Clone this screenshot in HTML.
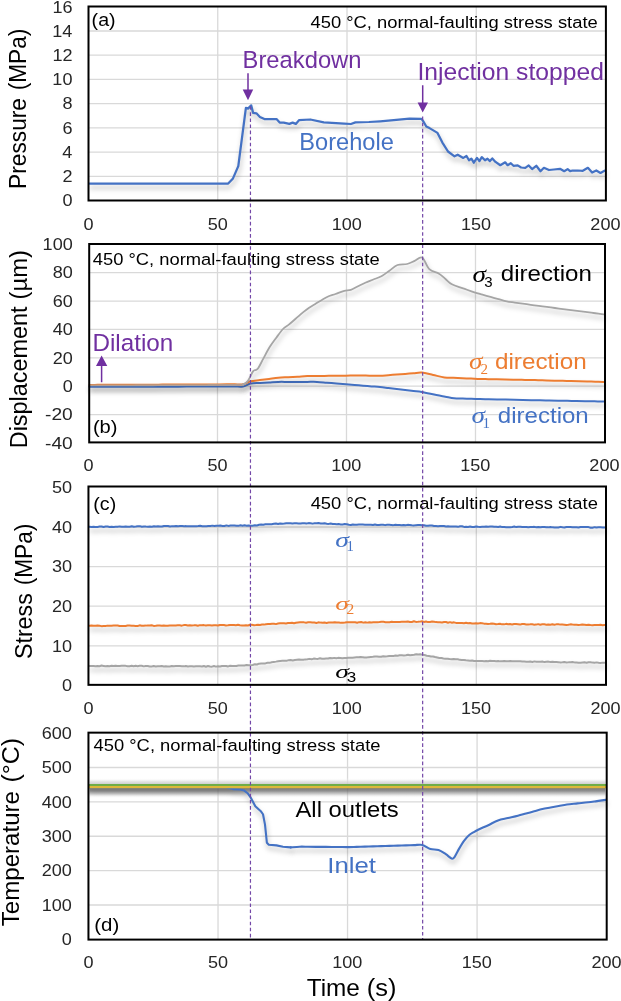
<!DOCTYPE html><html><head><meta charset="utf-8"><style>html,body{margin:0;padding:0;background:#fff;overflow:hidden}svg{display:block;will-change:transform}</style></head><body><svg width="621" height="1001" viewBox="0 0 621 1001">
<defs><filter id="sh" filterUnits="userSpaceOnUse" x="0" y="0" width="621" height="1001" color-interpolation-filters="sRGB"><feGaussianBlur in="SourceAlpha" stdDeviation="2.4"/><feOffset dx="1" dy="3.5" result="o"/><feFlood flood-color="#000" flood-opacity="0.27"/><feComposite in2="o" operator="in"/><feMerge><feMergeNode/><feMergeNode in="SourceGraphic"/></feMerge></filter><linearGradient id="gtop" x1="0" y1="0" x2="0" y2="1"><stop offset="0" stop-color="#fff" stop-opacity="0"/><stop offset="0.5" stop-color="#dcdcdc" stop-opacity="0.7"/><stop offset="1" stop-color="#c4c4c4" stop-opacity="0.9"/></linearGradient><linearGradient id="gbot" x1="0" y1="0" x2="0" y2="1"><stop offset="0" stop-color="#5e5e5e" stop-opacity="0.85"/><stop offset="0.3" stop-color="#6c6c6c" stop-opacity="0.75"/><stop offset="0.6" stop-color="#999" stop-opacity="0.5"/><stop offset="1" stop-color="#fff" stop-opacity="0"/></linearGradient></defs>
<rect width="621" height="1001" fill="#fff"/>
<path d="M88.5,176.30H605.5M88.5,152.09H605.5M88.5,127.87H605.5M88.5,103.65H605.5M88.5,79.43H605.5M88.5,55.22H605.5M88.5,31.00H605.5M217.75,6.78V200.52M347.00,6.78V200.52M476.25,6.78V200.52" stroke="#D9D9D9" stroke-width="1.3" fill="none"/>
<path d="M88.5,414.55H604.5M88.5,386.18H604.5M88.5,357.81H604.5M88.5,329.44H604.5M88.5,301.07H604.5M88.5,272.70H604.5M217.50,244.33V442.92M346.50,244.33V442.92M475.50,244.33V442.92" stroke="#D9D9D9" stroke-width="1.3" fill="none"/>
<path d="M88.5,645.80H605.6M88.5,606.20H605.6M88.5,566.60H605.6M88.5,527.00H605.6M217.78,487.4V685.4M347.05,487.4V685.4M476.32,487.4V685.4" stroke="#D9D9D9" stroke-width="1.3" fill="none"/>
<path d="M88.5,905.02H606.6M88.5,870.63H606.6M88.5,836.25H606.6M88.5,801.87H606.6M88.5,767.48H606.6M218.03,733.1V939.4M347.55,733.1V939.4M477.07,733.1V939.4" stroke="#D9D9D9" stroke-width="1.3" fill="none"/>
<path d="M89.50,183.50 L228.20,183.50 L233.00,178.40 L238.30,166.10 L245.90,107.80 L248.00,108.60 L251.20,105.40 L253.10,112.90 L256.40,113.30 L259.90,117.00 L264.40,119.10 L276.50,119.10 L279.70,122.60 L283.70,122.60 L289.40,123.90 L292.60,122.60 L295.80,123.90 L299.00,120.20 L310.30,119.50 L323.80,122.40 L344.10,123.60 L350.90,124.00 L355.40,122.40 L368.90,122.00 L380.20,121.30 L393.70,120.20 L409.50,118.60 L421.40,118.80 L423.00,120.90 L426.30,126.50 L429.50,128.10 L437.50,132.90 L442.40,142.60 L448.00,151.50 L454.50,156.30 L457.70,154.70 L463.30,157.90 L466.50,156.00 L469.00,160.30 L471.40,158.70 L473.80,162.70 L477.00,157.90 L479.40,161.10 L481.80,157.10 L485.00,160.30 L487.50,158.70 L489.90,161.10 L492.30,158.40 L495.50,161.90 L500.30,165.20 L505.20,162.30 L507.60,165.20 L510.80,163.20 L513.50,165.80 L517.70,165.40 L521.10,167.50 L525.30,167.80 L528.70,165.40 L532.10,169.10 L536.30,165.80 L540.50,171.20 L543.90,167.80 L549.00,170.00 L554.00,169.50 L560.00,168.80 L564.20,171.20 L567.60,169.10 L570.10,171.20 L572.60,170.50 L577.70,170.50 L582.80,170.80 L587.90,167.80 L592.10,172.50 L596.30,170.50 L600.50,172.90 L604.50,170.80" fill="none" stroke="#4472C4" stroke-width="2.25" stroke-linejoin="round" stroke-linecap="round" filter="url(#sh)"/>
<path d="M89.50,386.80 C90.85,386.80 94.89,386.79 97.58,386.78 C100.27,386.78 102.96,386.77 105.66,386.77 C108.35,386.76 111.04,386.76 113.74,386.75 C116.43,386.75 119.12,386.74 121.82,386.74 C124.51,386.73 127.20,386.73 129.89,386.72 C132.59,386.72 135.28,386.71 137.97,386.71 C140.67,386.70 143.36,386.69 146.05,386.69 C148.75,386.68 151.44,386.68 154.13,386.67 C156.82,386.67 159.52,386.66 162.21,386.66 C164.90,386.65 167.60,386.65 170.29,386.64 C172.98,386.64 175.68,386.63 178.37,386.63 C181.06,386.62 183.75,386.62 186.45,386.61 C189.14,386.61 191.83,386.60 194.53,386.59 C197.22,386.59 199.91,386.58 202.61,386.58 C205.30,386.57 207.99,386.57 210.68,386.56 C213.38,386.56 216.07,386.55 218.76,386.55 C221.46,386.54 224.15,386.54 226.84,386.53 C229.54,386.53 232.23,386.52 234.92,386.52 C237.61,386.51 240.39,387.00 243.00,386.50 C245.61,386.00 247.79,384.09 250.60,383.50 C253.41,382.91 256.76,383.14 259.83,382.97 C262.91,382.79 265.99,382.61 269.07,382.43 C272.14,382.26 275.15,381.99 278.30,381.90 C281.45,381.81 284.75,381.90 287.98,381.90 C291.20,381.90 294.42,381.90 297.65,381.90 C300.88,381.90 304.10,381.90 307.32,381.90 C310.55,381.90 313.78,381.77 317.00,381.90 C320.22,382.03 323.44,382.41 326.67,382.67 C329.89,382.92 333.11,383.18 336.33,383.43 C339.56,383.69 342.97,383.95 346.00,384.20 C349.03,384.45 351.67,384.68 354.50,384.93 C357.33,385.17 360.17,385.41 363.00,385.65 C365.83,385.89 368.67,386.13 371.50,386.38 C374.33,386.62 377.19,386.82 380.00,387.10 C382.81,387.38 385.59,387.74 388.38,388.06 C391.17,388.38 393.97,388.70 396.76,389.02 C399.55,389.34 402.35,389.66 405.14,389.98 C407.93,390.30 410.73,390.62 413.52,390.94 C416.31,391.26 418.09,391.21 421.90,391.90 C425.71,392.59 432.51,394.30 436.40,395.10 C440.29,395.90 442.30,396.17 445.25,396.70 C448.20,397.23 451.19,397.99 454.10,398.30 C457.01,398.61 459.86,398.48 462.73,398.57 C465.61,398.66 468.49,398.74 471.37,398.83 C474.24,398.92 477.13,399.03 480.00,399.10 C482.87,399.17 485.71,399.21 488.57,399.27 C491.43,399.33 494.29,399.39 497.14,399.44 C500.00,399.50 502.86,399.56 505.71,399.61 C508.57,399.67 511.43,399.73 514.29,399.79 C517.14,399.84 520.00,399.90 522.86,399.96 C525.71,400.01 528.57,400.07 531.43,400.13 C534.29,400.19 537.06,400.24 540.00,400.30 C542.94,400.36 546.05,400.41 549.07,400.47 C552.10,400.53 555.12,400.59 558.14,400.64 C561.17,400.70 564.19,400.76 567.21,400.81 C570.24,400.87 573.26,400.93 576.29,400.99 C579.31,401.04 582.33,401.10 585.36,401.16 C588.38,401.21 591.40,401.27 594.43,401.33 C597.45,401.39 601.99,401.47 603.50,401.50" fill="none" stroke="#4472C4" stroke-width="2.0" stroke-linejoin="round" stroke-linecap="round" filter="url(#sh)"/>
<path d="M89.50,384.90 C90.85,384.89 94.89,384.88 97.58,384.87 C100.27,384.86 102.96,384.85 105.66,384.84 C108.35,384.83 111.04,384.82 113.74,384.81 C116.43,384.79 119.12,384.78 121.82,384.77 C124.51,384.76 127.20,384.75 129.89,384.74 C132.59,384.73 135.28,384.72 137.97,384.71 C140.67,384.70 143.36,384.69 146.05,384.68 C148.75,384.67 151.44,384.66 154.13,384.65 C156.82,384.64 159.52,384.63 162.21,384.62 C164.90,384.61 167.60,384.59 170.29,384.58 C172.98,384.57 175.68,384.56 178.37,384.55 C181.06,384.54 183.75,384.53 186.45,384.52 C189.14,384.51 191.83,384.50 194.53,384.49 C197.22,384.48 199.91,384.47 202.61,384.46 C205.30,384.45 207.99,384.44 210.68,384.43 C213.38,384.42 216.07,384.41 218.76,384.39 C221.46,384.38 224.15,384.37 226.84,384.36 C229.54,384.35 232.23,384.34 234.92,384.33 C237.61,384.32 240.39,384.81 243.00,384.30 C245.61,383.79 247.79,382.00 250.60,381.30 C253.41,380.60 256.76,380.50 259.83,380.10 C262.91,379.70 265.99,379.30 269.07,378.90 C272.14,378.50 275.15,377.99 278.30,377.70 C281.45,377.41 284.74,377.34 287.97,377.17 C291.19,376.99 294.41,376.81 297.63,376.63 C300.86,376.46 304.26,376.21 307.30,376.10 C310.34,375.99 313.02,376.03 315.88,376.00 C318.74,375.97 321.61,375.93 324.47,375.90 C327.33,375.87 330.19,375.83 333.05,375.80 C335.91,375.77 338.77,375.73 341.63,375.70 C344.49,375.67 347.36,375.63 350.22,375.60 C353.08,375.57 355.60,375.49 358.80,375.50 C362.00,375.51 365.87,375.60 369.40,375.65 C372.93,375.70 376.84,375.88 380.00,375.80 C383.16,375.72 385.59,375.37 388.38,375.16 C391.17,374.95 393.97,374.73 396.76,374.52 C399.55,374.31 402.35,374.09 405.14,373.88 C407.93,373.67 410.73,373.45 413.52,373.24 C416.31,373.03 418.63,372.31 421.90,372.60 C425.17,372.89 429.40,374.20 433.15,375.00 C436.90,375.80 441.04,376.93 444.40,377.40 C447.76,377.87 450.33,377.67 453.30,377.80 C456.27,377.93 459.23,378.07 462.20,378.20 C465.17,378.33 468.13,378.47 471.10,378.60 C474.07,378.73 477.13,378.91 480.00,379.00 C482.87,379.09 485.56,379.11 488.33,379.17 C491.11,379.22 493.89,379.28 496.67,379.33 C499.44,379.39 502.22,379.44 505.00,379.50 C507.78,379.56 510.56,379.61 513.33,379.67 C516.11,379.72 518.89,379.78 521.67,379.83 C524.44,379.89 527.25,379.94 530.00,380.00 C532.75,380.06 535.44,380.14 538.17,380.21 C540.89,380.28 543.61,380.35 546.33,380.42 C549.06,380.49 551.78,380.56 554.50,380.63 C557.22,380.70 559.94,380.77 562.67,380.84 C565.39,380.91 568.11,380.99 570.83,381.06 C573.56,381.13 576.28,381.20 579.00,381.27 C581.72,381.34 584.44,381.41 587.17,381.48 C589.89,381.55 592.61,381.62 595.33,381.69 C598.06,381.76 602.14,381.86 603.50,381.90" fill="none" stroke="#ED7D31" stroke-width="2.0" stroke-linejoin="round" stroke-linecap="round" filter="url(#sh)"/>
<path d="M89.50,385.40 C90.92,385.40 95.17,385.38 98.00,385.38 C100.83,385.37 103.67,385.36 106.50,385.35 C109.33,385.35 112.17,385.34 115.00,385.33 C117.83,385.32 120.67,385.32 123.50,385.31 C126.33,385.30 129.17,385.29 132.00,385.28 C134.83,385.28 137.67,385.27 140.50,385.26 C143.33,385.25 146.17,385.25 149.00,385.24 C151.83,385.23 154.67,385.22 157.50,385.22 C160.33,385.21 163.17,385.20 166.00,385.19 C168.83,385.18 171.67,385.18 174.50,385.17 C177.33,385.16 180.17,385.15 183.00,385.15 C185.83,385.14 188.67,385.13 191.50,385.12 C194.33,385.12 197.15,385.12 200.00,385.10 C202.85,385.08 205.73,385.05 208.60,385.02 C211.47,384.99 214.33,384.97 217.20,384.94 C220.07,384.91 222.93,384.89 225.80,384.86 C228.67,384.83 231.53,384.81 234.40,384.78 C237.27,384.75 241.57,384.71 243.00,384.70" fill="none" stroke="#A5A5A5" stroke-width="1.8" stroke-linejoin="round" stroke-linecap="round" filter="url(#sh)" stroke-opacity="0.75"/>
<path d="M243.00,384.70 C243.78,384.10 246.03,383.32 247.70,381.10 C249.37,378.88 251.63,373.25 253.00,371.40 C254.37,369.55 255.02,370.57 255.90,370.00 C256.78,369.43 257.08,369.85 258.30,368.00 C259.52,366.15 261.33,362.35 263.20,358.90 C265.07,355.45 267.32,350.83 269.50,347.30 C271.68,343.77 274.05,340.75 276.30,337.70 C278.55,334.65 280.92,331.18 283.00,329.00 C285.08,326.82 286.70,326.30 288.80,324.60 C290.90,322.90 293.18,320.88 295.60,318.80 C298.02,316.72 301.05,313.95 303.30,312.10 C305.55,310.25 307.17,309.00 309.10,307.70 C311.03,306.40 311.98,306.05 314.90,304.30 C317.82,302.55 323.18,298.92 326.60,297.20 C330.03,295.48 332.50,295.07 335.45,294.00 C338.40,292.93 341.74,291.50 344.30,290.80 C346.86,290.10 348.51,290.56 350.80,289.80 C353.09,289.04 355.63,287.43 358.05,286.25 C360.47,285.07 362.75,283.82 365.30,282.70 C367.85,281.57 370.67,280.57 373.35,279.50 C376.03,278.43 378.72,277.78 381.40,276.30 C384.08,274.82 386.77,272.53 389.45,270.65 C392.13,268.77 394.56,266.11 397.50,265.00 C400.44,263.89 404.24,264.70 407.10,264.00 C409.96,263.30 412.13,261.87 414.65,260.80 C417.17,259.73 419.76,256.20 422.20,257.60 C424.64,259.00 426.50,266.52 429.30,269.20 C432.10,271.88 436.31,272.07 439.00,273.70 C441.69,275.33 443.30,277.23 445.45,279.00 C447.60,280.77 448.95,282.74 451.90,284.30 C454.85,285.86 459.40,287.00 463.15,288.35 C466.90,289.70 471.18,291.35 474.40,292.40 C477.62,293.45 479.77,293.90 482.45,294.65 C485.13,295.40 487.82,296.15 490.50,296.90 C493.18,297.65 495.87,298.40 498.55,299.15 C501.23,299.90 503.92,300.84 506.60,301.40 C509.28,301.96 511.97,302.15 514.65,302.52 C517.33,302.90 520.02,303.27 522.70,303.65 C525.38,304.02 528.07,304.40 530.75,304.77 C533.43,305.15 536.12,305.54 538.80,305.90 C541.48,306.26 544.17,306.60 546.85,306.95 C549.53,307.30 552.22,307.65 554.90,308.00 C557.58,308.35 560.27,308.70 562.95,309.05 C565.63,309.40 568.30,309.75 571.00,310.10 C573.70,310.45 576.42,310.80 579.12,311.15 C581.83,311.50 584.54,311.85 587.25,312.20 C589.96,312.55 592.67,312.90 595.38,313.25 C598.08,313.60 602.15,314.12 603.50,314.30" fill="none" stroke="#A5A5A5" stroke-width="1.8" stroke-linejoin="round" stroke-linecap="round" filter="url(#sh)"/>
<path d="M89.50,526.72 L91.51,526.91 L93.53,526.77 L95.54,526.92 L97.56,526.92 L99.57,526.51 L101.58,526.45 L103.60,527.01 L105.61,526.59 L107.62,526.56 L109.64,527.07 L111.65,526.69 L113.66,526.93 L115.68,526.66 L117.69,526.75 L119.71,526.39 L121.72,526.71 L123.73,526.86 L125.75,526.60 L127.76,526.74 L129.78,526.67 L131.79,526.23 L133.80,526.70 L135.82,526.56 L137.83,526.34 L139.84,526.13 L141.86,526.70 L143.87,526.41 L145.88,526.56 L147.90,526.66 L149.91,526.52 L151.93,526.65 L153.94,526.27 L155.95,526.53 L157.97,526.27 L159.98,526.59 L162.00,526.54 L164.01,525.97 L166.02,525.98 L168.04,526.02 L170.05,526.53 L172.06,526.14 L174.08,526.25 L176.09,526.01 L178.11,526.14 L180.12,526.03 L182.13,525.99 L184.15,526.14 L186.16,526.12 L188.17,526.33 L190.19,526.15 L192.20,526.31 L194.22,526.24 L196.23,526.32 L198.24,526.07 L200.26,525.70 L202.27,526.17 L204.28,526.23 L206.30,526.17 L208.31,525.92 L210.32,526.00 L212.34,525.63 L214.35,526.05 L216.37,525.85 L218.38,525.63 L220.39,525.46 L222.41,525.99 L224.42,526.07 L226.44,525.42 L228.45,525.90 L230.46,525.61 L232.48,525.41 L234.49,525.50 L236.50,525.81 L238.52,525.87 L240.53,525.27 L242.54,525.65 L244.56,525.23 L246.57,525.69 L248.59,525.40 L250.60,525.77 L252.71,525.70 L254.82,525.23 L256.94,525.44 L259.05,524.82 L261.16,524.52 L263.27,524.74 L265.39,524.21 L267.50,524.19 L269.61,524.20 L271.72,524.20 L273.84,523.75 L275.95,523.53 L278.06,523.97 L280.17,523.44 L282.29,523.76 L284.40,523.58 L286.41,523.21 L288.42,523.27 L290.44,523.31 L292.45,523.40 L294.46,523.37 L296.48,523.34 L298.49,523.38 L300.50,523.61 L302.51,523.30 L304.52,523.25 L306.54,523.45 L308.55,523.12 L310.56,523.16 L312.58,523.63 L314.59,523.31 L316.60,523.33 L318.61,523.04 L320.62,523.40 L322.64,523.60 L324.65,523.29 L326.66,523.79 L328.68,523.88 L330.69,523.56 L332.70,524.04 L334.71,524.01 L336.73,524.24 L338.74,524.09 L340.75,524.42 L342.76,524.52 L344.78,524.10 L346.79,524.21 L348.80,524.72 L350.81,524.94 L352.82,524.46 L354.84,524.63 L356.85,524.74 L358.86,524.57 L360.88,524.62 L362.89,524.60 L364.90,524.66 L366.91,524.84 L368.93,524.65 L370.94,524.72 L372.95,525.02 L374.96,524.51 L376.98,524.91 L378.99,525.05 L381.00,524.77 L383.05,524.72 L385.11,525.14 L387.16,524.76 L389.21,524.74 L391.26,524.93 L393.32,525.13 L395.37,524.73 L397.42,524.90 L399.47,524.93 L401.53,525.29 L403.58,525.03 L405.63,525.34 L407.68,524.87 L409.74,525.01 L411.79,525.24 L413.84,525.42 L415.89,525.13 L417.95,524.99 L420.00,524.93 L422.00,525.31 L424.00,525.16 L426.00,525.67 L428.00,525.78 L430.00,525.41 L432.00,525.57 L434.00,526.02 L436.00,525.99 L438.00,526.19 L440.00,525.96 L442.00,525.89 L444.00,526.09 L446.00,526.53 L448.00,526.25 L450.00,526.39 L452.01,526.45 L454.02,526.47 L456.02,526.48 L458.03,526.85 L460.04,526.32 L462.05,526.23 L464.05,526.90 L466.06,526.87 L468.07,526.96 L470.08,526.58 L472.09,526.96 L474.09,526.96 L476.10,526.47 L478.11,526.85 L480.12,526.93 L482.12,526.82 L484.13,526.73 L486.14,526.59 L488.15,526.64 L490.16,526.57 L492.16,526.47 L494.17,526.85 L496.18,526.65 L498.19,527.03 L500.19,526.51 L502.20,527.12 L504.21,526.99 L506.22,527.16 L508.23,527.15 L510.23,527.17 L512.24,526.96 L514.25,526.57 L516.26,527.10 L518.26,526.71 L520.27,526.81 L522.28,527.08 L524.29,527.00 L526.30,526.93 L528.30,527.31 L530.31,527.10 L532.32,526.92 L534.33,526.87 L536.34,527.31 L538.34,527.06 L540.35,527.28 L542.36,526.99 L544.37,526.90 L546.37,527.15 L548.38,527.36 L550.39,526.92 L552.40,527.37 L554.41,527.47 L556.41,527.40 L558.42,527.43 L560.43,526.87 L562.44,527.32 L564.44,527.49 L566.45,526.94 L568.46,527.11 L570.47,527.12 L572.48,527.31 L574.48,527.25 L576.49,527.30 L578.50,527.52 L580.51,527.00 L582.51,527.05 L584.52,527.11 L586.53,527.12 L588.54,527.09 L590.55,527.74 L592.55,527.67 L594.56,527.15 L596.57,527.45 L598.58,527.33 L600.58,527.34 L602.59,527.38 L604.60,527.50" fill="none" stroke="#4472C4" stroke-width="2.0" stroke-linejoin="round" stroke-linecap="round" filter="url(#sh)"/>
<path d="M89.50,625.72 L91.51,625.61 L93.51,625.81 L95.52,625.63 L97.53,625.56 L99.53,625.78 L101.54,626.13 L103.54,626.04 L105.55,626.01 L107.56,625.62 L109.56,625.83 L111.57,625.63 L113.58,625.55 L115.58,625.49 L117.59,625.56 L119.59,626.05 L121.60,625.97 L123.61,625.94 L125.61,625.93 L127.62,625.50 L129.62,625.57 L131.63,625.78 L133.64,625.84 L135.64,625.92 L137.65,625.93 L139.66,625.36 L141.66,625.71 L143.67,625.75 L145.68,625.62 L147.68,625.38 L149.69,625.58 L151.69,625.30 L153.70,625.88 L155.71,625.83 L157.71,625.59 L159.72,625.41 L161.73,625.83 L163.73,625.58 L165.74,625.79 L167.74,625.75 L169.75,625.51 L171.76,625.43 L173.76,625.55 L175.77,625.42 L177.78,625.22 L179.78,625.31 L181.79,625.66 L183.79,625.11 L185.80,625.10 L187.81,625.50 L189.81,625.25 L191.82,625.41 L193.82,625.36 L195.83,625.26 L197.84,625.71 L199.84,625.14 L201.85,625.28 L203.86,625.12 L205.86,625.41 L207.87,625.15 L209.88,625.20 L211.88,625.46 L213.89,625.15 L215.89,625.31 L217.90,625.54 L219.91,624.97 L221.91,624.93 L223.92,625.04 L225.92,625.41 L227.93,625.29 L229.94,625.02 L231.94,625.07 L233.95,624.95 L235.96,625.14 L237.96,624.84 L239.97,625.29 L241.97,625.42 L243.98,625.45 L245.99,625.28 L247.99,625.43 L250.00,624.76 L252.00,624.85 L254.00,625.23 L256.00,624.99 L258.00,624.64 L260.00,624.91 L262.00,624.58 L264.00,624.62 L266.00,624.16 L268.00,623.98 L270.00,624.06 L272.00,623.75 L274.00,623.82 L276.00,624.12 L278.00,623.58 L280.00,623.26 L282.00,623.18 L284.00,623.17 L286.00,623.50 L288.00,623.10 L290.00,622.95 L292.00,622.72 L294.00,623.24 L296.00,622.75 L298.00,622.50 L300.00,622.29 L302.05,622.29 L304.09,622.37 L306.14,622.72 L308.18,622.35 L310.23,622.28 L312.27,622.59 L314.32,622.42 L316.36,622.95 L318.41,622.34 L320.45,622.62 L322.50,622.79 L324.55,622.54 L326.59,622.94 L328.64,622.58 L330.68,622.42 L332.73,622.54 L334.77,622.28 L336.82,622.54 L338.86,622.42 L340.91,622.87 L342.95,622.83 L345.00,622.60 L347.03,622.24 L349.05,622.37 L351.08,622.33 L353.11,622.28 L355.14,622.26 L357.16,622.68 L359.19,622.14 L361.22,622.05 L363.24,622.63 L365.27,622.35 L367.30,622.62 L369.32,622.18 L371.35,622.49 L373.38,622.29 L375.41,622.36 L377.43,622.30 L379.46,622.09 L381.49,621.78 L383.51,621.83 L385.54,622.27 L387.57,622.26 L389.59,622.24 L391.62,621.80 L393.65,622.00 L395.68,622.07 L397.70,621.93 L399.73,622.02 L401.76,621.79 L403.78,621.85 L405.81,621.84 L407.84,621.52 L409.86,621.94 L411.89,621.94 L413.92,621.29 L415.95,621.89 L417.97,621.85 L420.00,621.62 L422.00,621.25 L424.00,621.91 L426.00,621.43 L428.00,622.09 L430.00,621.94 L432.00,621.58 L434.00,621.72 L436.00,622.11 L438.00,622.13 L440.00,622.32 L442.00,622.51 L444.00,622.08 L446.00,622.00 L448.00,622.71 L450.00,622.13 L452.00,622.80 L454.00,622.34 L456.00,622.89 L458.00,622.93 L460.00,623.06 L462.00,622.90 L464.00,623.20 L466.00,622.79 L468.00,623.18 L470.00,623.01 L472.00,623.46 L474.00,623.45 L476.00,623.30 L478.00,623.40 L480.00,623.12 L482.00,623.19 L484.00,623.65 L486.00,623.64 L488.00,623.97 L490.00,623.85 L492.00,623.59 L494.00,623.81 L496.00,624.16 L498.00,624.05 L500.00,623.76 L502.01,624.35 L504.02,624.36 L506.03,623.86 L508.05,624.20 L510.06,624.10 L512.07,624.41 L514.08,624.09 L516.09,624.05 L518.10,624.25 L520.12,624.60 L522.13,624.01 L524.14,624.04 L526.15,624.41 L528.16,624.61 L530.17,624.37 L532.18,624.33 L534.20,624.64 L536.21,624.61 L538.22,624.13 L540.23,624.71 L542.24,624.25 L544.25,624.34 L546.27,624.73 L548.28,624.46 L550.29,624.74 L552.30,624.32 L554.31,624.83 L556.32,624.36 L558.33,624.36 L560.35,624.62 L562.36,624.52 L564.37,624.68 L566.38,624.95 L568.39,624.84 L570.40,624.36 L572.42,624.59 L574.43,624.77 L576.44,624.75 L578.45,624.93 L580.46,624.78 L582.47,624.51 L584.48,624.65 L586.50,625.09 L588.51,624.76 L590.52,625.07 L592.53,625.24 L594.54,625.00 L596.55,625.05 L598.57,625.02 L600.58,624.83 L602.59,625.27 L604.60,625.00" fill="none" stroke="#ED7D31" stroke-width="2.0" stroke-linejoin="round" stroke-linecap="round" filter="url(#sh)"/>
<path d="M89.50,665.94 L91.51,666.03 L93.52,666.08 L95.52,666.19 L97.53,666.05 L99.54,666.19 L101.55,665.58 L103.55,665.89 L105.56,666.23 L107.57,666.04 L109.58,666.22 L111.58,665.68 L113.59,665.94 L115.60,665.79 L117.61,666.01 L119.62,666.04 L121.62,665.66 L123.63,665.81 L125.64,665.86 L127.65,666.32 L129.65,666.22 L131.66,665.81 L133.67,666.26 L135.68,665.81 L137.68,666.15 L139.69,665.82 L141.70,665.74 L143.71,666.36 L145.72,665.91 L147.72,665.92 L149.73,666.46 L151.74,666.40 L153.75,666.00 L155.75,666.48 L157.76,666.19 L159.77,666.30 L161.78,665.98 L163.78,666.50 L165.79,666.33 L167.80,666.54 L169.81,666.49 L171.82,666.09 L173.82,666.14 L175.83,666.01 L177.84,666.01 L179.85,665.96 L181.85,666.14 L183.86,666.36 L185.87,665.95 L187.88,666.43 L189.88,666.20 L191.89,666.19 L193.90,666.55 L195.91,666.33 L197.92,666.22 L199.92,666.34 L201.93,666.51 L203.94,666.07 L205.95,666.72 L207.95,666.06 L209.96,666.58 L211.97,666.65 L213.98,666.08 L215.98,666.63 L217.99,666.35 L220.00,666.50 L222.04,666.01 L224.08,665.95 L226.12,665.95 L228.16,666.40 L230.20,665.77 L232.24,666.07 L234.28,666.10 L236.32,666.01 L238.36,665.50 L240.40,665.42 L242.44,665.44 L244.48,665.52 L246.52,664.96 L248.56,665.32 L250.60,665.26 L252.71,665.03 L254.82,664.18 L256.94,664.54 L259.05,663.66 L261.16,663.56 L263.27,663.48 L265.39,663.42 L267.50,662.74 L269.61,662.87 L271.72,662.33 L273.84,661.89 L275.95,661.62 L278.06,661.25 L280.17,660.90 L282.29,660.68 L284.40,660.78 L286.49,660.87 L288.59,660.17 L290.68,659.96 L292.78,660.50 L294.87,660.06 L296.96,659.84 L299.06,659.60 L301.15,659.73 L303.25,659.77 L305.34,659.38 L307.44,659.24 L309.53,658.86 L311.62,659.34 L313.72,658.59 L315.81,658.79 L317.91,658.91 L320.00,658.29 L322.03,658.65 L324.06,658.74 L326.09,658.46 L328.12,658.51 L330.15,657.97 L332.18,658.14 L334.21,657.88 L336.24,658.30 L338.27,657.86 L340.30,657.91 L342.33,658.23 L344.37,658.07 L346.40,658.09 L348.43,657.67 L350.46,657.63 L352.49,657.74 L354.52,657.50 L356.55,657.31 L358.58,657.33 L360.61,657.09 L362.64,657.19 L364.67,657.55 L366.70,657.47 L368.77,657.13 L370.83,656.93 L372.90,656.71 L374.96,656.43 L377.03,656.45 L379.09,656.70 L381.16,656.65 L383.22,656.19 L385.29,656.38 L387.35,656.27 L389.42,656.10 L391.48,655.97 L393.55,655.93 L395.62,655.55 L397.68,655.68 L399.75,655.27 L401.81,655.31 L403.88,655.40 L405.94,655.24 L408.01,654.85 L410.07,655.20 L412.14,654.89 L414.20,654.73 L416.27,654.22 L418.33,654.49 L420.40,654.18 L422.50,654.84 L424.60,655.06 L426.70,655.68 L428.80,655.93 L430.90,656.41 L433.00,656.46 L435.10,657.04 L437.20,657.48 L439.30,657.91 L441.40,657.95 L443.44,658.47 L445.49,658.66 L447.53,658.71 L449.57,659.08 L451.62,659.24 L453.66,659.11 L455.71,659.30 L457.75,659.22 L459.79,659.86 L461.84,660.11 L463.88,659.96 L465.93,660.28 L467.97,660.48 L470.01,660.66 L472.06,660.45 L474.10,661.05 L476.11,660.94 L478.12,661.02 L480.12,660.88 L482.13,661.05 L484.14,661.19 L486.15,661.12 L488.15,661.21 L490.16,660.75 L492.17,660.88 L494.18,661.10 L496.18,661.28 L498.19,661.00 L500.20,661.36 L502.21,661.35 L504.22,660.97 L506.22,661.30 L508.23,661.16 L510.24,661.06 L512.25,661.15 L514.25,661.31 L516.26,661.24 L518.27,661.28 L520.28,661.20 L522.28,661.53 L524.29,661.50 L526.30,661.69 L528.31,661.70 L530.32,661.48 L532.32,661.98 L534.33,661.38 L536.34,661.69 L538.35,661.63 L540.35,661.75 L542.36,661.57 L544.37,662.11 L546.38,661.81 L548.38,661.61 L550.39,662.04 L552.40,661.71 L554.41,662.05 L556.42,661.94 L558.42,662.13 L560.43,662.43 L562.44,662.36 L564.45,662.11 L566.45,662.41 L568.46,662.32 L570.47,662.16 L572.48,662.03 L574.48,662.38 L576.49,662.39 L578.50,662.69 L580.51,662.73 L582.52,662.50 L584.52,662.35 L586.53,662.76 L588.54,662.17 L590.55,662.27 L592.55,662.62 L594.56,662.68 L596.57,662.38 L598.58,662.75 L600.58,662.97 L602.59,662.63 L604.60,662.75" fill="none" stroke="#A5A5A5" stroke-width="2.0" stroke-linejoin="round" stroke-linecap="round" filter="url(#sh)"/>
<rect x="89.5" y="778" width="516" height="6.5" fill="url(#gtop)"/>
<rect x="89.5" y="788" width="516" height="10" fill="url(#gbot)"/>
<path d="M89.50,787.20 L226.00,787.30 L233.00,789.10 L240.00,789.50 L244.30,790.60 L247.60,793.20 L250.80,797.73 L255.30,806.29 L261.10,811.59 L263.00,814.25 L265.00,824.62 L266.90,842.79 L268.80,844.76 L276.50,845.40 L283.00,846.70 L290.70,847.40" fill="none" stroke="#4472C4" stroke-width="2.1" stroke-linejoin="round" stroke-linecap="round" filter="url(#sh)"/>
<path d="M290.70,847.40 C292.20,847.28 296.85,846.81 299.70,846.70 C302.55,846.59 305.10,846.74 307.80,846.77 C310.50,846.79 313.20,846.81 315.90,846.83 C318.60,846.86 321.30,846.88 324.00,846.90 C326.70,846.92 329.40,846.94 332.10,846.97 C334.80,846.99 337.50,847.01 340.20,847.03 C342.90,847.06 345.58,847.13 348.30,847.10 C351.02,847.07 353.79,846.94 356.53,846.86 C359.28,846.77 362.02,846.69 364.77,846.61 C367.51,846.53 370.26,846.45 373.00,846.37 C375.74,846.29 378.49,846.20 381.23,846.12 C383.98,846.04 386.72,845.96 389.47,845.88 C392.21,845.80 394.96,845.71 397.70,845.63 C400.44,845.55 403.19,845.47 405.93,845.39 C408.68,845.31 411.42,845.23 414.17,845.14 C416.91,845.06 419.69,844.26 422.40,844.90 C425.11,845.54 427.72,848.17 430.40,849.00 C433.08,849.83 435.93,849.03 438.50,849.90 C441.07,850.77 443.62,852.77 445.80,854.20 C447.98,855.63 450.15,858.02 451.60,858.50 C453.05,858.98 453.22,858.78 454.50,857.10 C455.78,855.42 457.68,851.13 459.30,848.40 C460.92,845.67 462.58,842.88 464.20,840.70 C465.82,838.52 467.40,836.73 469.00,835.30 C470.60,833.87 472.20,833.07 473.80,832.10 C475.40,831.13 476.18,830.65 478.60,829.50 C481.02,828.35 485.07,826.72 488.30,825.20 C491.53,823.68 494.73,821.58 498.00,820.40 C501.27,819.22 504.63,818.87 507.95,818.10 C511.27,817.33 514.88,816.56 517.90,815.80 C520.92,815.04 523.34,814.31 526.07,813.57 C528.79,812.82 531.51,812.08 534.23,811.33 C536.96,810.59 539.68,809.73 542.40,809.10 C545.12,808.47 547.84,808.08 550.57,807.57 C553.29,807.06 556.01,806.54 558.73,806.03 C561.46,805.52 563.76,804.94 566.90,804.50 C570.04,804.06 574.03,803.77 577.60,803.40 C581.17,803.03 585.07,802.68 588.30,802.30 C591.52,801.92 594.07,801.50 596.95,801.10 C599.83,800.70 604.16,800.10 605.60,799.90" fill="none" stroke="#4472C4" stroke-width="2.1" stroke-linejoin="round" stroke-linecap="round" filter="url(#sh)"/>
<path d="M89.50,785.00 L605.60,785.00" fill="none" stroke="#70AD47" stroke-width="2.0" stroke-linejoin="round" stroke-linecap="round"/>
<path d="M89.50,787.10 L605.60,787.10" fill="none" stroke="#DDB73A" stroke-width="2.2" stroke-linejoin="round" stroke-linecap="round"/>
<path d="M250.45,106.25V939.4M422.65,116.61V939.4" stroke="#7448A8" stroke-width="1.2" stroke-dasharray="3.6,2.485" fill="none"/>
<rect x="88.5" y="6.5" width="517.40" height="194.00" fill="none" stroke="#000" stroke-width="2"/>
<rect x="89.2" y="244.0" width="515.80" height="198.40" fill="none" stroke="#000" stroke-width="2"/>
<rect x="88.45" y="486.5" width="517.55" height="198.35" fill="none" stroke="#000" stroke-width="2"/>
<rect x="88.45" y="732.65" width="518.25" height="206.95" fill="none" stroke="#000" stroke-width="2"/>
<text transform="translate(62.39,206.29) scale(1.0450,1)" style="font-family:'Liberation Sans', sans-serif;font-size:17.3px;" fill="#262626">0</text>
<text transform="translate(62.57,182.07) scale(1.0450,1)" style="font-family:'Liberation Sans', sans-serif;font-size:17.3px;" fill="#262626">2</text>
<text transform="translate(62.21,157.85) scale(1.0450,1)" style="font-family:'Liberation Sans', sans-serif;font-size:17.3px;" fill="#262626">4</text>
<text transform="translate(62.48,133.64) scale(1.0450,1)" style="font-family:'Liberation Sans', sans-serif;font-size:17.3px;" fill="#262626">6</text>
<text transform="translate(62.39,109.42) scale(1.0450,1)" style="font-family:'Liberation Sans', sans-serif;font-size:17.3px;" fill="#262626">8</text>
<text transform="translate(52.36,85.20) scale(1.0450,1)" style="font-family:'Liberation Sans', sans-serif;font-size:17.3px;" fill="#262626">10</text>
<text transform="translate(52.54,60.98) scale(1.0450,1)" style="font-family:'Liberation Sans', sans-serif;font-size:17.3px;" fill="#262626">12</text>
<text transform="translate(52.18,36.77) scale(1.0450,1)" style="font-family:'Liberation Sans', sans-serif;font-size:17.3px;" fill="#262626">14</text>
<text transform="translate(52.45,12.55) scale(1.0450,1)" style="font-family:'Liberation Sans', sans-serif;font-size:17.3px;" fill="#262626">16</text>
<text transform="translate(83.48,229.51) scale(1.0450,1)" style="font-family:'Liberation Sans', sans-serif;font-size:17.3px;" fill="#262626">0</text>
<text transform="translate(207.72,229.51) scale(1.0450,1)" style="font-family:'Liberation Sans', sans-serif;font-size:17.3px;" fill="#262626">50</text>
<text transform="translate(331.63,229.51) scale(1.0450,1)" style="font-family:'Liberation Sans', sans-serif;font-size:17.3px;" fill="#262626">100</text>
<text transform="translate(460.88,229.51) scale(1.0450,1)" style="font-family:'Liberation Sans', sans-serif;font-size:17.3px;" fill="#262626">150</text>
<text transform="translate(590.36,229.51) scale(1.0450,1)" style="font-family:'Liberation Sans', sans-serif;font-size:17.3px;" fill="#262626">200</text>
<text transform="translate(45.04,448.69) scale(1.1093,1)" style="font-family:'Liberation Sans', sans-serif;font-size:17.3px;" fill="#262626">-40</text>
<text transform="translate(45.04,420.32) scale(1.1093,1)" style="font-family:'Liberation Sans', sans-serif;font-size:17.3px;" fill="#262626">-20</text>
<text transform="translate(62.69,391.95) scale(1.0450,1)" style="font-family:'Liberation Sans', sans-serif;font-size:17.3px;" fill="#262626">0</text>
<text transform="translate(52.66,363.58) scale(1.0450,1)" style="font-family:'Liberation Sans', sans-serif;font-size:17.3px;" fill="#262626">20</text>
<text transform="translate(52.66,335.21) scale(1.0450,1)" style="font-family:'Liberation Sans', sans-serif;font-size:17.3px;" fill="#262626">40</text>
<text transform="translate(52.66,306.84) scale(1.0450,1)" style="font-family:'Liberation Sans', sans-serif;font-size:17.3px;" fill="#262626">60</text>
<text transform="translate(52.66,278.47) scale(1.0450,1)" style="font-family:'Liberation Sans', sans-serif;font-size:17.3px;" fill="#262626">80</text>
<text transform="translate(42.62,250.10) scale(1.0450,1)" style="font-family:'Liberation Sans', sans-serif;font-size:17.3px;" fill="#262626">100</text>
<text transform="translate(83.48,471.41) scale(1.0450,1)" style="font-family:'Liberation Sans', sans-serif;font-size:17.3px;" fill="#262626">0</text>
<text transform="translate(207.47,471.41) scale(1.0450,1)" style="font-family:'Liberation Sans', sans-serif;font-size:17.3px;" fill="#262626">50</text>
<text transform="translate(331.13,471.41) scale(1.0450,1)" style="font-family:'Liberation Sans', sans-serif;font-size:17.3px;" fill="#262626">100</text>
<text transform="translate(460.13,471.41) scale(1.0450,1)" style="font-family:'Liberation Sans', sans-serif;font-size:17.3px;" fill="#262626">150</text>
<text transform="translate(589.36,471.41) scale(1.0450,1)" style="font-family:'Liberation Sans', sans-serif;font-size:17.3px;" fill="#262626">200</text>
<text transform="translate(62.09,691.17) scale(1.0450,1)" style="font-family:'Liberation Sans', sans-serif;font-size:17.3px;" fill="#262626">0</text>
<text transform="translate(52.06,651.57) scale(1.0450,1)" style="font-family:'Liberation Sans', sans-serif;font-size:17.3px;" fill="#262626">10</text>
<text transform="translate(52.06,611.97) scale(1.0450,1)" style="font-family:'Liberation Sans', sans-serif;font-size:17.3px;" fill="#262626">20</text>
<text transform="translate(52.06,572.37) scale(1.0450,1)" style="font-family:'Liberation Sans', sans-serif;font-size:17.3px;" fill="#262626">30</text>
<text transform="translate(52.06,532.77) scale(1.0450,1)" style="font-family:'Liberation Sans', sans-serif;font-size:17.3px;" fill="#262626">40</text>
<text transform="translate(52.06,493.17) scale(1.0450,1)" style="font-family:'Liberation Sans', sans-serif;font-size:17.3px;" fill="#262626">50</text>
<text transform="translate(83.48,714.41) scale(1.0450,1)" style="font-family:'Liberation Sans', sans-serif;font-size:17.3px;" fill="#262626">0</text>
<text transform="translate(207.74,714.41) scale(1.0450,1)" style="font-family:'Liberation Sans', sans-serif;font-size:17.3px;" fill="#262626">50</text>
<text transform="translate(331.68,714.41) scale(1.0450,1)" style="font-family:'Liberation Sans', sans-serif;font-size:17.3px;" fill="#262626">100</text>
<text transform="translate(460.96,714.41) scale(1.0450,1)" style="font-family:'Liberation Sans', sans-serif;font-size:17.3px;" fill="#262626">150</text>
<text transform="translate(590.46,714.41) scale(1.0450,1)" style="font-family:'Liberation Sans', sans-serif;font-size:17.3px;" fill="#262626">200</text>
<text transform="translate(61.79,945.17) scale(1.0450,1)" style="font-family:'Liberation Sans', sans-serif;font-size:17.3px;" fill="#262626">0</text>
<text transform="translate(41.72,910.79) scale(1.0450,1)" style="font-family:'Liberation Sans', sans-serif;font-size:17.3px;" fill="#262626">100</text>
<text transform="translate(41.72,876.40) scale(1.0450,1)" style="font-family:'Liberation Sans', sans-serif;font-size:17.3px;" fill="#262626">200</text>
<text transform="translate(41.72,842.02) scale(1.0450,1)" style="font-family:'Liberation Sans', sans-serif;font-size:17.3px;" fill="#262626">300</text>
<text transform="translate(41.72,807.64) scale(1.0450,1)" style="font-family:'Liberation Sans', sans-serif;font-size:17.3px;" fill="#262626">400</text>
<text transform="translate(41.72,773.25) scale(1.0450,1)" style="font-family:'Liberation Sans', sans-serif;font-size:17.3px;" fill="#262626">500</text>
<text transform="translate(41.72,738.87) scale(1.0450,1)" style="font-family:'Liberation Sans', sans-serif;font-size:17.3px;" fill="#262626">600</text>
<text transform="translate(83.48,968.31) scale(1.0450,1)" style="font-family:'Liberation Sans', sans-serif;font-size:17.3px;" fill="#262626">0</text>
<text transform="translate(207.99,968.31) scale(1.0450,1)" style="font-family:'Liberation Sans', sans-serif;font-size:17.3px;" fill="#262626">50</text>
<text transform="translate(332.18,968.31) scale(1.0450,1)" style="font-family:'Liberation Sans', sans-serif;font-size:17.3px;" fill="#262626">100</text>
<text transform="translate(461.71,968.31) scale(1.0450,1)" style="font-family:'Liberation Sans', sans-serif;font-size:17.3px;" fill="#262626">150</text>
<text transform="translate(591.46,968.31) scale(1.0450,1)" style="font-family:'Liberation Sans', sans-serif;font-size:17.3px;" fill="#262626">200</text>
<text transform="translate(26.40,189.02) rotate(-90) scale(0.9484,1)" style="font-family:'Liberation Sans',sans-serif;font-size:24px" fill="#000">Pressure</text>
<text transform="translate(26.40,90.36) rotate(-90) scale(0.9455,1)" style="font-family:'Liberation Sans',sans-serif;font-size:24px" fill="#000">(MPa)</text>
<text transform="translate(26.70,448.27) rotate(-90) scale(0.9764,1)" style="font-family:'Liberation Sans',sans-serif;font-size:24px" fill="#000">Displacement</text>
<text transform="translate(26.70,299.43) rotate(-90) scale(0.9936,1)" style="font-family:'Liberation Sans',sans-serif;font-size:24px" fill="#000">(µm)</text>
<text transform="translate(32.20,659.05) rotate(-90) scale(0.9679,1)" style="font-family:'Liberation Sans',sans-serif;font-size:24px" fill="#000">Stress</text>
<text transform="translate(32.20,585.36) rotate(-90) scale(0.9455,1)" style="font-family:'Liberation Sans',sans-serif;font-size:24px" fill="#000">(MPa)</text>
<text transform="translate(18.70,926.18) rotate(-90) scale(1.0038,1)" style="font-family:'Liberation Sans',sans-serif;font-size:24px" fill="#000">Temperature</text>
<text transform="translate(18.70,782.50) rotate(-90) scale(1.0385,1)" style="font-family:'Liberation Sans',sans-serif;font-size:24px" fill="#000">(°C)</text>
<text transform="translate(306.71,996.20) scale(1.0142,1)" style="font-family:'Liberation Sans', sans-serif;font-size:24px;" fill="#000">Time</text>
<text transform="translate(366.87,996.20) scale(1.0606,1)" style="font-family:'Liberation Sans', sans-serif;font-size:24px;" fill="#000">(s)</text>
<text transform="translate(91.62,26.30) scale(1.0614,1)" style="font-family:'Liberation Sans', sans-serif;font-size:18.5px;" fill="#000">(a)</text>
<text transform="translate(92.89,432.60) scale(1.0909,1)" style="font-family:'Liberation Sans', sans-serif;font-size:18.5px;" fill="#000">(b)</text>
<text transform="translate(93.32,509.70) scale(1.0604,1)" style="font-family:'Liberation Sans', sans-serif;font-size:18.5px;" fill="#000">(c)</text>
<text transform="translate(94.27,930.90) scale(1.1057,1)" style="font-family:'Liberation Sans', sans-serif;font-size:18.5px;" fill="#000">(d)</text>
<text transform="translate(310.44,27.60) scale(1.0632,1)" style="font-family:'Liberation Sans', sans-serif;font-size:17.3px;" fill="#000">450 °C, normal-faulting stress state</text>
<text transform="translate(92.74,265.00) scale(1.0801,1)" style="font-family:'Liberation Sans', sans-serif;font-size:17.0px;" fill="#000">450 °C, normal-faulting stress state</text>
<text transform="translate(310.64,508.90) scale(1.0571,1)" style="font-family:'Liberation Sans', sans-serif;font-size:17.4px;" fill="#000">450 °C, normal-faulting stress state</text>
<text transform="translate(93.54,750.70) scale(1.0808,1)" style="font-family:'Liberation Sans', sans-serif;font-size:17.0px;" fill="#000">450 °C, normal-faulting stress state</text>
<text transform="translate(242.60,67.90) scale(0.9945,1)" style="font-family:'Liberation Sans', sans-serif;font-size:23.9px;" fill="#7030A0">Breakdown</text>
<text transform="translate(417.38,79.60) scale(1.0280,1)" style="font-family:'Liberation Sans', sans-serif;font-size:24.0px;" fill="#7030A0">Injection stopped</text>
<text transform="translate(299.31,150.10) scale(0.9757,1)" style="font-family:'Liberation Sans', sans-serif;font-size:24.2px;" fill="#4472C4">Borehole</text>
<text transform="translate(92.46,350.80) scale(1.0311,1)" style="font-family:'Liberation Sans', sans-serif;font-size:23.5px;" fill="#7030A0">Dilation</text>
<path d="M248,73.3V90.5M422.7,85.3V103M101.6,365V382.2" stroke="#7030A0" stroke-width="1.5" fill="none"/>
<path d="M242.7,89.5L253.2,89.5L248,100.3Z M417.6,102.4L428,102.4L422.7,112.4Z M96,366.1L107.3,366.1L101.6,355.6Z" fill="#7030A0"/>
<text transform="translate(472.48,281.60) scale(1.1364,1)" style="font-family:'Liberation Serif', serif;font-size:24px;font-style:italic;" fill="#000">σ</text>
<text transform="translate(484.30,286.60) scale(1.0000,1)" style="font-family:'Liberation Sans', sans-serif;font-size:15px;" fill="#000">3</text>
<text transform="translate(500.84,281.40) scale(1.0959,1)" style="font-family:'Liberation Sans', sans-serif;font-size:22.0px;" fill="#000">direction</text>
<text transform="translate(468.88,369.20) scale(1.1364,1)" style="font-family:'Liberation Serif', serif;font-size:24px;font-style:italic;" fill="#ED7D31">σ</text>
<text transform="translate(480.62,374.20) scale(1.0000,1)" style="font-family:'Liberation Serif', serif;font-size:15px;" fill="#ED7D31">2</text>
<text transform="translate(494.93,369.20) scale(1.1033,1)" style="font-family:'Liberation Sans', sans-serif;font-size:22.0px;" fill="#ED7D31">direction</text>
<text transform="translate(471.48,422.70) scale(1.1364,1)" style="font-family:'Liberation Serif', serif;font-size:24px;font-style:italic;" fill="#4472C4">σ</text>
<text transform="translate(482.55,427.70) scale(1.0000,1)" style="font-family:'Liberation Serif', serif;font-size:15px;" fill="#4472C4">1</text>
<text transform="translate(497.84,422.70) scale(1.0934,1)" style="font-family:'Liberation Sans', sans-serif;font-size:22.0px;" fill="#4472C4">direction</text>
<text transform="translate(335.27,546.70) scale(1.3454,1)" style="font-family:'Liberation Serif', serif;font-size:20.5714285714287px;font-style:italic;" fill="#4472C4">σ</text>
<text transform="translate(346.46,550.80) scale(1.0246,1)" style="font-family:'Liberation Serif', serif;font-size:14.5px;" fill="#4472C4">1</text>
<text transform="translate(335.27,609.70) scale(1.4530,1)" style="font-family:'Liberation Serif', serif;font-size:19.047619047619047px;font-style:italic;" fill="#ED7D31">σ</text>
<text transform="translate(346.28,614.20) scale(1.1034,1)" style="font-family:'Liberation Serif', serif;font-size:14.5px;" fill="#ED7D31">2</text>
<text transform="translate(335.27,677.50) scale(1.4530,1)" style="font-family:'Liberation Serif', serif;font-size:19.047619047619047px;font-style:italic;" fill="#000">σ</text>
<text transform="translate(346.72,682.00) scale(1.0981,1)" style="font-family:'Liberation Sans', sans-serif;font-size:15.5px;" fill="#000">3</text>
<text transform="translate(295.48,817.10) scale(1.0837,1)" style="font-family:'Liberation Sans', sans-serif;font-size:22.0px;" fill="#000">All outlets</text>
<text transform="translate(327.28,873.10) scale(1.1979,1)" style="font-family:'Liberation Sans', sans-serif;font-size:21.5px;" fill="#4472C4">Inlet</text>
</svg></body></html>
